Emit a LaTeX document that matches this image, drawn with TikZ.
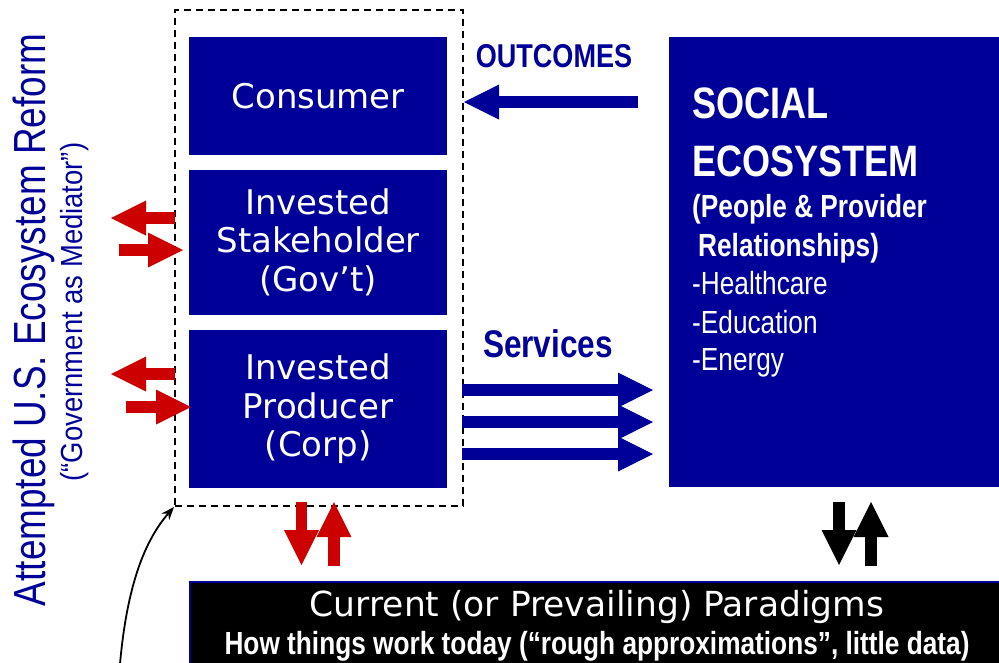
\documentclass[tikz,border=0pt]{standalone}
\usepackage{fontspec}
\setmainfont{DejaVu Sans}
\newfontfamily\narrowfont[FakeStretch=0.82]{Liberation Sans}
\newfontfamily\subfont[FakeStretch=0.9]{Liberation Sans}
\usetikzlibrary{positioning,arrows.meta}
\definecolor{navy}{RGB}{0,0,153}
\definecolor{alarm}{RGB}{204,0,0}

\begin{document}
\begin{tikzpicture}[x=1pt,y=-1pt,
role/.style={rectangle, fill=navy, text=white, minimum width=258pt, inner sep=0pt, align=center, font=\fontsize{34}{38.5}\selectfont},
flow/.style={line width=11.5pt, draw=navy, -{Triangle[length=35pt,width=35pt,line width=0pt]}},
pressure/.style={line width=11.5pt, draw=alarm, -{Triangle[length=35pt,width=35pt,line width=0pt]}},
feedback/.style={line width=11.5pt, draw=black, -{Triangle[length=35pt,width=35pt,line width=0pt]}},
social/.style={anchor=base west, inner sep=0pt, text=white}
]
\useasboundingbox (0,0) rectangle (999,662);

\node[role, minimum height=118pt, anchor=north west](consumer) at (189,37){Consumer};
\node[role, minimum height=145pt](stakeholder)[below=14pt of consumer]{Invested\\Stakeholder\\(Gov’t)};
\node[role, minimum height=158pt](producer)[below=15pt of stakeholder]{Invested\\Producer\\(Corp)};

\node[draw, line width=2pt, dash pattern=on 7pt off 5pt, minimum width=288pt, minimum height=496pt, inner sep=0pt, anchor=north west](reform) at (174,9){};

\node[fill=navy, minimum width=340pt, minimum height=450pt, inner sep=0pt, anchor=north west](ecosystem) at (669,37){};
\node[social, font=\narrowfont\bfseries\fontsize{44}{44}\selectfont](soc_title) at (692,118){SOCIAL};
\node[social, font=\narrowfont\bfseries\fontsize{44}{44}\selectfont](soc_title_2) at (692,176){ECOSYSTEM};
\node[social, font=\narrowfont\bfseries\fontsize{32}{32}\selectfont](soc_sub) at (692,217){(People \& Provider};
\node[social, font=\narrowfont\bfseries\fontsize{32}{32}\selectfont](soc_sub_2) at (698,256){Relationships)};
\node[social, font=\narrowfont\fontsize{32}{32}\selectfont](soc_health) at (692,294){-Healthcare};
\node[social, font=\narrowfont\fontsize{32}{32}\selectfont](soc_edu) at (692,333){-Education};
\node[social, font=\narrowfont\fontsize{32}{32}\selectfont](soc_energy) at (692,370){-Energy};

\node[anchor=base, inner sep=0pt, text=navy, font=\narrowfont\bfseries\fontsize{33}{33}\selectfont](outcomes_label) at (554,67){OUTCOMES};
\node[anchor=base, inner sep=0pt, text=navy, font=\narrowfont\bfseries\fontsize{38.5}{38.5}\selectfont](services_label) at (548,357){Services};

\node[rotate=90, anchor=base, inner sep=0pt, text=navy, font=\narrowfont\fontsize{45}{45}\selectfont](reform_title) at (45,320){Attempted U.S. Ecosystem Reform};
\node[rotate=90, anchor=base, inner sep=0pt, text=navy, font=\subfont\fontsize{30.5}{30.5}\selectfont](reform_sub) at (82,312){(“Government as Mediator”)};

\node[fill=black, draw=navy, line width=2pt, minimum width=830pt, minimum height=90pt, inner sep=0pt, anchor=north west](paradigms) at (189,581){};
\node[anchor=base, inner sep=0pt, text=white, font=\fontsize{34.5}{34.5}\selectfont](paradigms_title) at (597,616){Current (or Prevailing) Paradigms};
\node[anchor=base, inner sep=0pt, text=white, font=\narrowfont\bfseries\fontsize{32}{32}\selectfont](paradigms_sub) at (597,654){How things work today (“rough approximations”, little data)};

% outcomes back to the consumer
\coordinate (outcomes_start) at (638,102);
\draw[flow] (outcomes_start) -- (outcomes_start -| reform.east);

% services out to the ecosystem
\foreach \y [count=\i] in {390,422,454}{
  \coordinate (service_start_\i) at (462,\y);
  \coordinate (service_end_\i) at (653,\y);
  \draw[flow] (service_start_\i) -- (service_end_\i);
}

% reform pressure on the invested parties
\coordinate (gov_out) at (175,218);
\coordinate (gov_out_end) at (111,218);
\coordinate (gov_in) at (119,250);
\coordinate (gov_in_end) at (183,250);
\draw[pressure] (gov_out) -- (gov_out_end);
\draw[pressure] (gov_in) -- (gov_in_end);
\coordinate (corp_out) at (175,374);
\coordinate (corp_out_end) at (111,374);
\coordinate (corp_in) at (126,407);
\coordinate (corp_in_end) at (191,407);
\draw[pressure] (corp_out) -- (corp_out_end);
\draw[pressure] (corp_in) -- (corp_in_end);

% exchange with the paradigms
\coordinate (group_down) at (301.5,502);
\coordinate (group_down_end) at (301.5,565);
\coordinate (group_up) at (334,566);
\coordinate (group_up_end) at (334,502);
\draw[pressure] (group_down) -- (group_down_end);
\draw[pressure] (group_up) -- (group_up_end);
\coordinate (eco_down) at (839,502);
\coordinate (eco_down_end) at (839,565);
\coordinate (eco_up) at (871,566);
\coordinate (eco_up_end) at (871,502);
\draw[feedback] (eco_down) -- (eco_down_end);
\draw[feedback] (eco_up) -- (eco_up_end);

\coordinate (note_start) at (120,664);
\draw[line width=1.8pt, -{Stealth[length=13pt,width=10pt]}] (note_start) .. controls (127,585) and (145,540) .. (reform.south west);
\end{tikzpicture}
\end{document}
